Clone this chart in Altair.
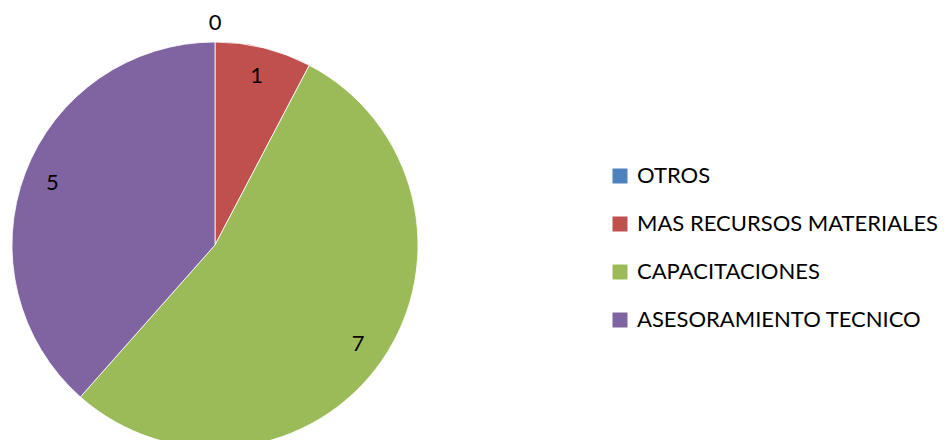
import altair as alt
import pandas as pd

categories = ["OTROS", "MAS RECURSOS MATERIALES", "CAPACITACIONES", "ASESORAMIENTO TECNICO"]
values = [0, 1, 7, 5]
colors = ["#4F81BD", "#C0504D", "#9BBB59", "#8064A2"]

df = pd.DataFrame({"cat": categories, "value": values, "idx": list(range(len(categories)))})

cx, cy, R = 207, 237, 203

base = alt.Chart(df).encode(
    theta=alt.Theta("value:Q", stack=True),
    order=alt.Order("idx:Q"),
    x=alt.value(cx),
    y=alt.value(cy),
)

pie = base.mark_arc(outerRadius=R, stroke="white", strokeWidth=0.8).encode(
    color=alt.Color(
        "cat:N",
        scale=alt.Scale(domain=categories, range=colors),
        sort=categories,
        legend=alt.Legend(
            title=None,
            orient="none",
            legendX=601,
            legendY=157,
            symbolType="square",
            symbolSize=225,
            symbolStrokeWidth=0,
            labelFontSize=22,
            labelFont="Lato",
            labelColor="#000000",
            labelOffset=6,
            rowPadding=26,
            labelLimit=400,
        ),
    )
)

labels = base.mark_text(
    fontSize=22, font="Lato", color="#000000",
    radius=alt.expr("datum.value == 0 ? 222 : 174"),
).encode(
    text=alt.Text("value:Q"),
)

chart = (
    alt.layer(pie, labels)
    .properties(width=935, height=432, autosize=alt.AutoSizeParams(type="none"), padding=0)
    .configure_view(stroke=None)
)

chart.save("out.html", embed_options={"renderer": "svg", "actions": False})
